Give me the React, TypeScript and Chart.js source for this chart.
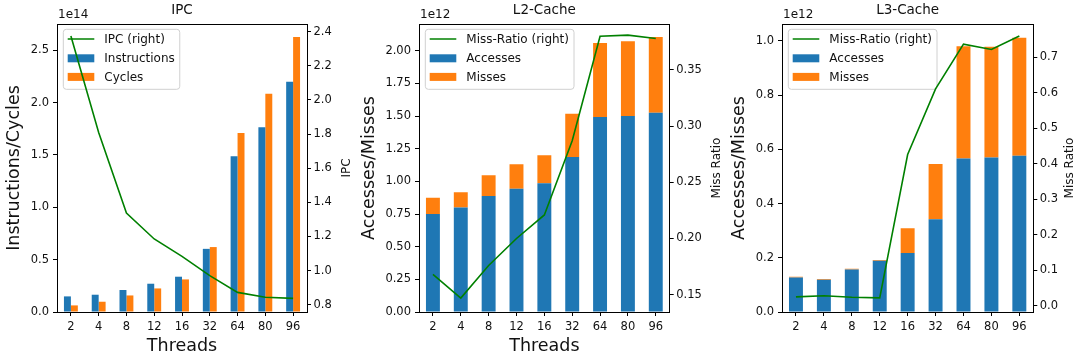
import React, { useEffect, useRef } from 'react';
import { Chart, registerables } from 'chart.js';

Chart.register(...registerables);

const FONT = '"DejaVu Sans", sans-serif';

// ---------- data ----------
const threads = ['2', '4', '8', '12', '16', '32', '64', '80', '96'];

const instructions = [1.49e13, 1.65e13, 2.1e13, 2.7e13, 3.37e13, 6.03e13, 1.487e14, 1.763e14, 2.198e14];
const cycles = [0.63e13, 0.98e13, 1.58e13, 2.25e13, 3.11e13, 6.2e13, 1.709e14, 2.084e14, 2.627e14];
const ipc = [2.375, 1.809, 1.337, 1.185, 1.083, 0.97, 0.872, 0.843, 0.837];

const l2Accesses = [0.751e12, 0.8e12, 0.889e12, 0.943e12, 0.986e12, 1.187e12, 1.493e12, 1.501e12, 1.526e12];
const l2Misses = [0.123e12, 0.117e12, 0.158e12, 0.188e12, 0.214e12, 0.331e12, 0.566e12, 0.571e12, 0.579e12];
const l2MissRatio = [0.168, 0.147, 0.176, 0.2, 0.221, 0.287, 0.38, 0.381, 0.378];

const l3Accesses = [0.127e12, 0.119e12, 0.157e12, 0.189e12, 0.218e12, 0.342e12, 0.566e12, 0.57e12, 0.576e12];
const l3Misses = [0.003e12, 0.003e12, 0.003e12, 0.003e12, 0.091e12, 0.204e12, 0.414e12, 0.409e12, 0.436e12];
const l3MissRatio = [0.025, 0.028, 0.024, 0.022, 0.426, 0.611, 0.737, 0.722, 0.76];

const BLUE = '#1f77b4';
const ORANGE = '#ff7f0e';
const GREEN = '#008000';
const TEXT = '#111';

type Panel = {
  x: number;
  w: number;
  leftW: number;
  rightW: number;
  title: string;
  exp: number;
  yMax: number;
  yStep: number;
  yDec: number;
  y1Min: number;
  y1Max: number;
  y1Step: number;
  y1Dec: number;
  leftLabel: string;
  leftLabelX: number;
  rightLabel: string;
  rightLabelX: number;
  xLabel: string | null;
  stacked: boolean;
  lineLabel: string;
  lineData: number[];
  barLabels: string[];
  barData: number[][];
};

// yMax / yStep are in units of 10^exp (matplotlib offset notation)
const panels: Panel[] = [
  {
    x: 0, w: 360, leftW: 57, rightW: 53,
    title: 'IPC', exp: 14, yMax: 2.75, yStep: 0.5, yDec: 1,
    y1Min: 0.757, y1Max: 2.445, y1Step: 0.2, y1Dec: 1,
    leftLabel: 'Instructions/Cycles', leftLabelX: 14.5,
    rightLabel: 'IPC', rightLabelX: 347,
    xLabel: 'Threads', stacked: false,
    lineLabel: 'IPC (right)', lineData: ipc,
    barLabels: ['Instructions', 'Cycles'], barData: [instructions, cycles],
  },
  {
    x: 360, w: 366, leftW: 59, rightW: 56.3,
    title: 'L2-Cache', exp: 12, yMax: 2.205, yStep: 0.25, yDec: 2,
    y1Min: 0.1346, y1Max: 0.3909, y1Step: 0.05, y1Dec: 2,
    leftLabel: 'Accesses/Misses', leftLabelX: 9.5,
    rightLabel: 'Miss Ratio', rightLabelX: 356.7,
    xLabel: 'Threads', stacked: true,
    lineLabel: 'Miss-Ratio (right)', lineData: l2MissRatio,
    barLabels: ['Accesses', 'Misses'], barData: [l2Accesses, l2Misses],
  },
  {
    x: 720, w: 358, leftW: 62, rightW: 44.7,
    title: 'L3-Cache', exp: 12, yMax: 1.0625, yStep: 0.2, yDec: 1,
    y1Min: -0.0177, y1Max: 0.7937, y1Step: 0.1, y1Dec: 1,
    leftLabel: 'Accesses/Misses', leftLabelX: 19,
    rightLabel: 'Miss Ratio', rightLabelX: 350,
    xLabel: null, stacked: true,
    lineLabel: 'Miss-Ratio (right)', lineData: l3MissRatio,
    barLabels: ['Accesses', 'Misses'], barData: [l3Accesses, l3Misses],
  },
];

function makeDecor(p: Panel) {
  return {
    id: 'decor' + p.title,
    beforeDatasetDraw(chart: any, args: any) {
      if (args.index !== 0) return;
      // legend (drawn below the twin-axis line, above bars)
      const ctx = chart.ctx;
      const ca = chart.chartArea;
      const ds = chart.data.datasets;
      ctx.save();
      ctx.font = `12px ${FONT}`;
      let maxW = 0;
      ds.forEach((d: any) => { maxW = Math.max(maxW, ctx.measureText(d.label).width); });
      const bx = ca.left + 6.3;
      const by = ca.top + 5.3;
      const bw = 41 + maxW + 5;
      const bh = 60;
      ctx.beginPath();
      const r = 3;
      ctx.moveTo(bx + r, by);
      ctx.arcTo(bx + bw, by, bx + bw, by + bh, r);
      ctx.arcTo(bx + bw, by + bh, bx, by + bh, r);
      ctx.arcTo(bx, by + bh, bx, by, r);
      ctx.arcTo(bx, by, bx + bw, by, r);
      ctx.closePath();
      ctx.fillStyle = 'rgba(255,255,255,0.8)';
      ctx.fill();
      ctx.strokeStyle = '#d0d0d0';
      ctx.lineWidth = 1;
      ctx.stroke();
      const rows = [9.7, 29, 47.6];
      ds.forEach((d: any, i: number) => {
        const cy = by + rows[i];
        if (d.type === 'line') {
          ctx.strokeStyle = d.borderColor;
          ctx.lineWidth = 1.5;
          ctx.beginPath();
          ctx.moveTo(bx + 4.4, cy);
          ctx.lineTo(bx + 31, cy);
          ctx.stroke();
        } else {
          ctx.fillStyle = d.backgroundColor;
          ctx.fillRect(bx + 4.4, cy - 4, 26.6, 8);
        }
        ctx.fillStyle = TEXT;
        ctx.textAlign = 'left';
        ctx.textBaseline = 'middle';
        ctx.fillText(d.label, bx + 41, cy + 0.5);
      });
      ctx.restore();
    },
    afterDraw(chart: any) {
      const ctx = chart.ctx;
      const ca = chart.chartArea;
      ctx.save();
      // top spine
      ctx.strokeStyle = '#000';
      ctx.lineWidth = 1;
      ctx.beginPath();
      ctx.moveTo(ca.left, Math.round(ca.top) + 0.5);
      ctx.lineTo(ca.right, Math.round(ca.top) + 0.5);
      ctx.stroke();
      ctx.fillStyle = TEXT;
      // title
      ctx.font = `13.5px ${FONT}`;
      ctx.textAlign = 'center';
      ctx.textBaseline = 'alphabetic';
      ctx.fillText(p.title, (ca.left + ca.right) / 2, 14);
      // offset text
      ctx.font = `12px ${FONT}`;
      ctx.textAlign = 'left';
      ctx.fillText('1e' + p.exp, ca.left + 1, 17.5);
      const midY = (ca.top + ca.bottom) / 2;
      // left axis title
      ctx.font = `17.5px ${FONT}`;
      ctx.save();
      ctx.translate(p.leftLabelX, midY);
      ctx.rotate(-Math.PI / 2);
      ctx.textAlign = 'center';
      ctx.textBaseline = 'middle';
      ctx.fillText(p.leftLabel, 0, 0);
      ctx.restore();
      // right axis title (reads bottom to top)
      ctx.font = `12px ${FONT}`;
      ctx.save();
      ctx.translate(p.rightLabelX, midY);
      ctx.rotate(-Math.PI / 2);
      ctx.textAlign = 'center';
      ctx.textBaseline = 'middle';
      ctx.fillText(p.rightLabel, 0, 0);
      ctx.restore();
      // x axis title
      if (p.xLabel) {
        ctx.font = `17.5px ${FONT}`;
        ctx.textAlign = 'center';
        ctx.textBaseline = 'middle';
        ctx.fillText(p.xLabel, (ca.left + ca.right) / 2, 346);
      }
      ctx.restore();
    },
  };
}

function axisCommon() {
  return {
    grid: {
      display: true,
      drawOnChartArea: false,
      drawTicks: true,
      tickLength: 4,
      color: '#000',
      tickColor: '#000',
      tickWidth: 1,
    },
    border: { display: true, color: '#000', width: 1 },
  };
}

function PanelChart({ p }: { p: Panel }) {
  const ref = useRef<HTMLCanvasElement>(null);
  useEffect(() => {
    if (!ref.current) return;
    const scale = Math.pow(10, p.exp);
    const datasets: any[] = [
      {
        type: 'line',
        label: p.lineLabel,
        data: p.lineData,
        yAxisID: 'y1',
        borderColor: GREEN,
        backgroundColor: GREEN,
        borderWidth: 1.6,
        pointRadius: 0,
        tension: 0,
        fill: false,
      },
      ...p.barLabels.map((lab, i) => ({
        type: 'bar',
        label: lab,
        data: p.barData[i].map((v) => v / scale),
        yAxisID: 'y',
        backgroundColor: i === 0 ? BLUE : ORANGE,
        borderWidth: 0,
        categoryPercentage: p.stacked ? 1 : 0.5,
        barPercentage: p.stacked ? 0.5 : 1,
      })),
    ];
    const tickFont = { family: FONT, size: 11.5 };
    const chart = new Chart(ref.current, {
      type: 'bar',
      data: { labels: threads, datasets },
      plugins: [makeDecor(p)],
      options: {
        animation: false,
        responsive: false,
        devicePixelRatio: 1,
        layout: { padding: { top: 24, left: 0, right: 0, bottom: 0 } },
        plugins: {
          legend: { display: false },
          title: { display: false },
          tooltip: { enabled: false },
        },
        scales: {
          x: {
            type: 'category',
            offset: true,
            stacked: p.stacked,
            ...axisCommon(),
            grid: { ...axisCommon().grid, offset: false },
            ticks: { color: TEXT, font: tickFont, padding: 4, maxRotation: 0, autoSkip: false },
            afterFit: (s: any) => { s.height = 48; },
          },
          y: {
            type: 'linear',
            position: 'left',
            min: 0,
            max: p.yMax,
            stacked: p.stacked,
            ...axisCommon(),
            ticks: {
              color: TEXT,
              font: tickFont,
              padding: 4,
              stepSize: p.yStep,
              includeBounds: false,
              callback: (v: any) => Number(v).toFixed(p.yDec),
            },
            afterFit: (s: any) => { s.width = p.leftW; },
          },
          y1: {
            type: 'linear',
            position: 'right',
            min: p.y1Min,
            max: p.y1Max,
            ...axisCommon(),
            ticks: {
              color: TEXT,
              font: tickFont,
              padding: 2.5,
              stepSize: p.y1Step,
              includeBounds: false,
              callback: (v: any) => Math.abs(Number(v)) < 1e-9 ? (0).toFixed(p.y1Dec) : Number(v).toFixed(p.y1Dec),
            },
            afterFit: (s: any) => { s.width = p.rightW; },
          },
        },
      } as any,
    } as any);
    return () => chart.destroy();
  }, [p]);
  return (
    <canvas
      ref={ref}
      width={p.w}
      height={360}
      style={{ position: 'absolute', left: p.x, top: 0, width: p.w, height: 360 }}
    />
  );
}

export default function App() {
  return (
    <div style={{ position: 'fixed', left: 0, top: 0, width: 1078, height: 360, background: '#fff', overflow: 'hidden' }}>
      {panels.map((p) => (
        <PanelChart key={p.title} p={p} />
      ))}
    </div>
  );
}
